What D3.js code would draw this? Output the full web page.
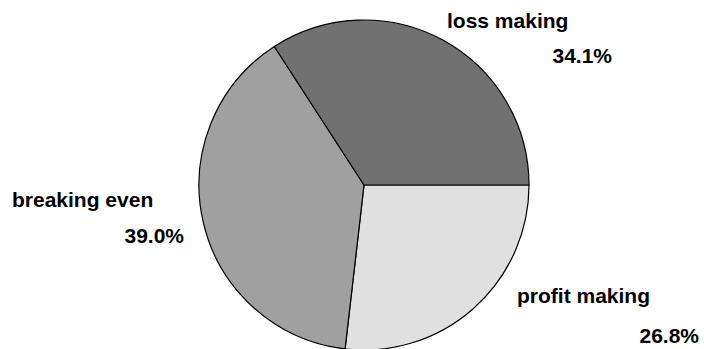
<!DOCTYPE html>
<html>
<head>
<meta charset="utf-8">
<script src="https://cdn.jsdelivr.net/npm/d3@7"></script>
<style>
  html, body { margin: 0; padding: 0; background: #fff; }
  svg { display: block; }
  text { font-family: "Liberation Sans", Arial, sans-serif; font-weight: bold; font-size: 21px; fill: #000; }
</style>
</head>
<body>
<div id="chart"></div>
<script>
// Data (counts, clockwise from 3 o'clock)
const categories = ['profit making', 'breaking even', 'loss making'];
const counts = [11, 16, 14];
const sliceColors = ['#e0e0e0', '#a0a0a0', '#717171'];

const width = 704, height = 349;
const cx = 364, cy = 185, radius = 165;

// label placement relative to pie centre: [name x, name y, pct right edge, pct y]
const labelLayout = {
  'loss making':   { nx: 83,   ny: -157, px: 248,  py: -122 },
  'breaking even': { nx: -352, ny: 22,   px: -180, py: 58 },
  'profit making': { nx: 153,  ny: 118,  px: 335,  py: 158 }
};

const svg = d3.select('#chart')
  .append('svg')
  .attr('width', width)
  .attr('height', height);

const g = svg.append('g')
  .attr('transform', `translate(${cx},${cy})`);

const total = d3.sum(counts);
const data = categories.map((c, i) => ({ name: c, value: counts[i], color: sliceColors[i] }));

const pie = d3.pie()
  .sort(null)
  .value(d => d.value)
  .startAngle(Math.PI / 2)
  .endAngle(Math.PI / 2 + 2 * Math.PI);

const arc = d3.arc().innerRadius(0).outerRadius(radius);

const arcs = pie(data);

g.selectAll('path')
  .data(arcs)
  .enter().append('path')
  .attr('d', arc)
  .attr('fill', d => d.data.color)
  .attr('stroke', '#000')
  .attr('stroke-width', 1.2)
  .attr('stroke-linejoin', 'round');

const fmt = d3.format('.1%');

// labels
const labels = g.selectAll('g.label')
  .data(arcs)
  .enter().append('g')
  .attr('class', 'label');

labels.append('text')
  .attr('x', d => labelLayout[d.data.name].nx)
  .attr('y', d => labelLayout[d.data.name].ny)
  .text(d => d.data.name);

labels.append('text')
  .attr('x', d => labelLayout[d.data.name].px)
  .attr('y', d => labelLayout[d.data.name].py)
  .attr('text-anchor', 'end')
  .text(d => fmt(d.data.value / total));
</script>
</body>
</html>
